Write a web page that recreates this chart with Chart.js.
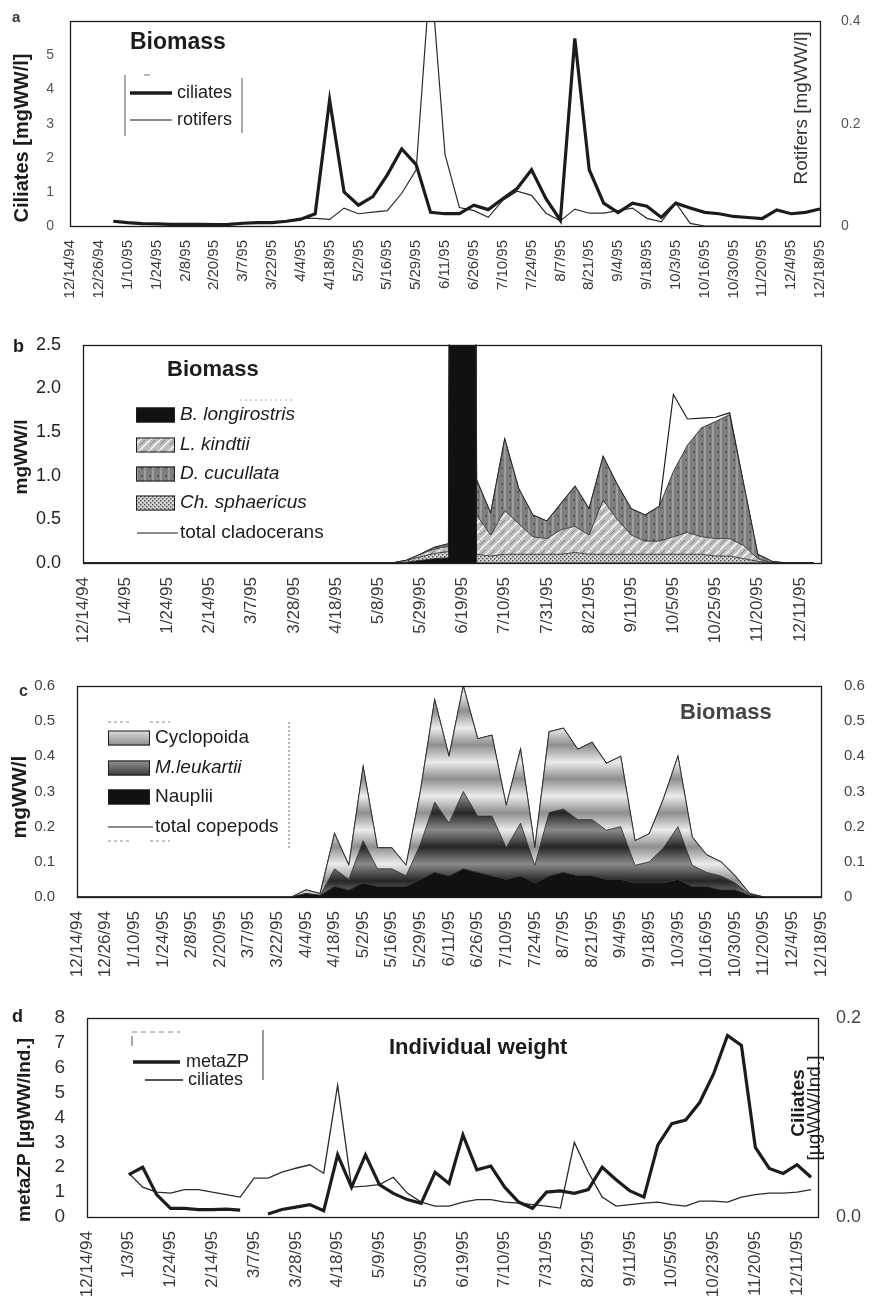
<!DOCTYPE html>
<html>
<head>
<meta charset="utf-8">
<script src="https://cdn.jsdelivr.net/npm/chart.js@4.4.1/dist/chart.umd.min.js"></script>
<style>
html, body { margin: 0; padding: 0; background: #fff; }
#page { position: relative; width: 872px; height: 1299px; overflow: hidden; background: #fff; }
#page canvas { position: absolute; left: 0; }
</style>
</head>
<body>
<div id="page">
  <canvas id="pa" width="872" height="320" style="top:0px"></canvas>
  <canvas id="pb" width="872" height="340" style="top:320px"></canvas>
  <canvas id="pc" width="872" height="320" style="top:660px"></canvas>
  <canvas id="pd" width="872" height="319" style="top:980px"></canvas>
</div>
<script>
// ---------- a: ciliate and rotifer biomass (two samples per tick interval) ----------
const ticksA = ['12/14/94','12/26/94','1/10/95','1/24/95','2/8/95','2/20/95','3/7/95','3/22/95','4/4/95',
  '4/18/95','5/2/95','5/16/95','5/29/95','6/11/95','6/26/95','7/10/95','7/24/95','8/7/95','8/21/95',
  '9/4/95','9/18/95','10/3/95','10/16/95','10/30/95','11/20/95','12/4/95','12/18/95'];
const ciliatesA = [null,null,null,0.14,0.10,0.07,0.06,0.05,0.05,0.05,
  0.04,0.05,0.08,0.10,0.10,0.14,0.20,0.36,3.70,1.00,
  0.61,0.86,1.50,2.26,1.80,0.40,0.36,0.36,0.61,0.48,
  0.80,1.10,1.65,0.80,0.17,5.50,1.65,0.67,0.39,0.67,
  0.58,0.25,0.67,0.53,0.40,0.36,0.28,0.25,0.22,0.47,
  0.36,0.40,0.50];
const rotifersA = [null,null,null,null,null,null,null,null,null,null,
  null,null,null,null,null,null,0.015,0.015,0.013,0.035,
  0.024,0.027,0.030,0.064,0.110,0.500,0.140,0.036,0.030,0.017,
  0.050,0.068,0.060,0.025,0.010,0.033,0.025,0.025,0.030,0.035,
  0.015,0.008,0.045,0.005,0,0,0,0,0,0,
  0,0,0];

// ---------- b: cladoceran biomass (weekly, three samples per tick interval) ----------
const ticksB = ['12/14/94','1/4/95','1/24/95','2/14/95','3/7/95','3/28/95','4/18/95','5/8/95','5/29/95',
  '6/19/95','7/10/95','7/31/95','8/21/95','9/11/95','10/5/95','10/25/95','11/20/95','12/11/95'];
const zeros23 = [0,0,0,0,0,0,0,0,0,0,0,0,0,0,0,0,0,0,0,0,0,0,0];
const longirostrisB = zeros23.concat([0.01,0.03,0.05,0.06,40,0,0,0,0,0,
  0,0,0,0,0,0,0,0,0,0,
  0,0,0,0,0,0,0,0,0,0]);
const sphaericusB = zeros23.concat([0.02,0.04,0.06,0.07,0.10,0.10,0.08,0.10,0.10,0.10,
  0.10,0.10,0.12,0.10,0.10,0.10,0.10,0.10,0.10,0.10,
  0.10,0.10,0.08,0.08,0.05,0.02,0,0,0,0]);
const kindtiiB = zeros23.concat([0,0.03,0.05,0.06,0.50,0.45,0.24,0.50,0.35,0.20,
  0.18,0.28,0.30,0.22,0.62,0.40,0.22,0.15,0.15,0.20,
  0.25,0.20,0.20,0.20,0.15,0.03,0,0,0,0]);
const cucullataB = zeros23.concat([0,0,0.02,0.03,0.40,0.40,0.25,0.82,0.40,0.25,
  0.20,0.30,0.46,0.30,0.50,0.40,0.30,0.30,0.40,0.75,
  1.00,1.25,1.34,1.42,0.70,0.05,0.02,0,0,0]);
const cladoceransB = zeros23.concat([0.03,0.10,0.18,0.22,41,0.95,0.57,1.42,0.85,0.55,
  0.48,0.68,0.88,0.62,1.22,0.90,0.62,0.55,0.65,1.93,
  1.65,1.66,1.67,1.72,0.90,0.10,0.02,0,0,0]);

// ---------- c: copepod biomass (two samples per tick interval) ----------
const ticksC = ticksA.slice();
const zeros16 = [0,0,0,0,0,0,0,0,0,0,0,0,0,0,0,0];
const naupliiC = zeros16.concat([0.01,0.005,0.03,0.02,0.04,0.03,0.03,0.03,0.05,0.07,
  0.06,0.08,0.07,0.06,0.05,0.06,0.04,0.06,0.07,0.06,
  0.06,0.05,0.05,0.04,0.04,0.04,0.05,0.03,0.03,0.02,
  0.02,0.005,0,0,0,0,0]);
const leukartiiC = zeros16.concat([0,0,0.05,0.03,0.12,0.05,0.05,0.03,0.10,0.20,
  0.15,0.22,0.16,0.17,0.09,0.15,0.05,0.18,0.18,0.16,
  0.16,0.14,0.15,0.05,0.06,0.10,0.15,0.06,0.04,0.04,
  0.02,0.003,0,0,0,0,0]);
const cyclopoidaC = zeros16.concat([0.01,0.005,0.10,0.04,0.21,0.06,0.06,0.03,0.15,0.29,
  0.19,0.30,0.22,0.23,0.12,0.21,0.05,0.23,0.23,0.20,
  0.22,0.19,0.20,0.07,0.08,0.14,0.20,0.08,0.05,0.04,
  0.02,0.002,0,0,0,0,0]);
const copepodsC = zeros16.concat([0.02,0.01,0.18,0.09,0.37,0.14,0.14,0.09,0.30,0.56,
  0.40,0.60,0.45,0.46,0.26,0.42,0.14,0.47,0.48,0.42,
  0.44,0.38,0.40,0.16,0.18,0.28,0.40,0.17,0.12,0.10,
  0.06,0.01,0,0,0,0,0]);

// ---------- d: individual weight (weekly, three samples per tick interval) ----------
const ticksD = ['12/14/94','1/3/95','1/24/95','2/14/95','3/7/95','3/28/95','4/18/95','5/9/95','5/30/95',
  '6/19/95','7/10/95','7/31/95','8/21/95','9/11/95','10/5/95','10/23/95','11/20/95','12/11/95'];
const metaZPD = [null,null,null,1.70,2.00,0.90,0.35,0.35,0.30,0.30,
  0.32,0.28,null,0.12,0.30,0.40,0.50,0.25,2.50,1.20,
  2.50,1.30,0.95,0.70,0.55,1.80,1.35,3.30,1.90,2.05,
  1.20,0.60,0.35,1.00,1.05,0.95,1.10,2.00,1.50,1.05,
  0.80,2.90,3.75,3.90,4.60,5.75,7.30,6.90,2.80,1.95,
  1.75,2.10,1.60];
const ciliatesD = [null,null,null,0.044,0.030,0.025,0.024,0.0275,0.0275,0.025,
  0.0225,0.020,0.039,0.039,0.045,0.049,0.0525,0.044,0.1325,0.030,
  0.031,0.0325,0.040,0.024,0.015,0.011,0.011,0.015,0.0175,0.0175,
  0.015,0.014,0.0125,0.011,0.009,0.075,0.045,0.020,0.011,0.0125,
  0.014,0.015,0.0125,0.011,0.016,0.016,0.015,0.020,0.0225,0.024,
  0.024,0.025,0.0275];

// ---------- helpers ----------
const FONT = "'Liberation Sans', Arial, sans-serif";
const INK = '#1c1c1c';
const pts = (arr, step) => arr.map((v, i) => ({ x: i * step, y: v }));

function pattern(w, h, draw) {
  const c = document.createElement('canvas');
  c.width = w; c.height = h;
  const g = c.getContext('2d');
  draw(g, w, h);
  return g.createPattern(c, 'repeat');
}
function bands(period, light, dark) {
  return pattern(4, period, (g, w, h) => {
    const gr = g.createLinearGradient(0, 0, 0, h);
    gr.addColorStop(0, light); gr.addColorStop(0.5, dark); gr.addColorStop(1, light);
    g.fillStyle = gr; g.fillRect(0, 0, w, h);
  });
}
const fillKindtii = pattern(10, 10, (g) => {
  g.fillStyle = '#bdbdbd'; g.fillRect(0, 0, 10, 10);
  g.strokeStyle = '#f4f4f4'; g.lineWidth = 1.6;
  g.beginPath(); g.moveTo(0, 10); g.lineTo(10, 0); g.stroke();
  g.strokeStyle = '#707070'; g.lineWidth = 0.8;
  g.beginPath(); g.moveTo(0, 5); g.lineTo(5, 0); g.stroke();
});
const fillCucullata = pattern(8, 8, (g) => {
  g.fillStyle = '#7e7e7e'; g.fillRect(0, 0, 8, 8);
  g.fillStyle = '#9c9c9c'; g.fillRect(0, 0, 2, 8);
  g.fillStyle = '#5c5c5c'; g.fillRect(5, 3, 2, 2);
});
const fillSphaericus = pattern(4, 4, (g) => {
  g.fillStyle = '#d6d6d6'; g.fillRect(0, 0, 4, 4);
  g.fillStyle = '#505050'; g.fillRect(0, 0, 1.5, 1.5); g.fillRect(2, 2, 1.5, 1.5);
});
const fillCyclopoida = bands(34, '#ececec', '#8e8e8e');
const fillLeukartii = bands(34, '#8a8a8a', '#262626');

function xAxis(labels, max, size, height) {
  return {
    type: 'linear', min: 0, max: max,
    grid: { display: false }, border: { display: false },
    ticks: {
      stepSize: 1, autoSkip: false, includeBounds: false,
      minRotation: 90, maxRotation: 90, padding: 6,
      color: '#3a3a3a', font: { family: FONT, size: size },
      callback: (v) => (Number.isInteger(v) && labels[v] !== undefined) ? labels[v] : ''
    },
    afterFit: (s) => { s.height = height; }
  };
}
function yAxis(pos, min, max, step, fmt, size, width, pad, color) {
  return {
    type: 'linear', position: pos, min: min, max: max,
    grid: { display: false }, border: { display: false },
    ticks: {
      stepSize: step, autoSkip: false, padding: pad, color: color || '#333',
      font: { family: FONT, size: size },
      callback: fmt
    },
    afterFit: (s) => { s.width = width; }
  };
}
function txt(ctx, s, x, y, font, opt) {
  opt = opt || {};
  ctx.save();
  ctx.font = font;
  ctx.fillStyle = opt.color || INK;
  ctx.textAlign = opt.align || 'left';
  ctx.textBaseline = 'middle';
  ctx.translate(x, y);
  if (opt.rot) ctx.rotate(opt.rot);
  ctx.fillText(s, 0, 0);
  ctx.restore();
}
function seg(ctx, x1, y1, x2, y2, w, color, dash) {
  ctx.save();
  ctx.strokeStyle = color || INK; ctx.lineWidth = w;
  if (dash) ctx.setLineDash(dash);
  ctx.beginPath(); ctx.moveTo(x1, y1); ctx.lineTo(x2, y2); ctx.stroke();
  ctx.restore();
}
function swatch(ctx, x, y, w, h, fill) {
  ctx.save();
  ctx.fillStyle = fill; ctx.fillRect(x, y - h / 2, w, h);
  ctx.strokeStyle = INK; ctx.lineWidth = 1;
  ctx.strokeRect(x + 0.5, y - h / 2 + 0.5, w - 1, h - 1);
  ctx.restore();
}
function frame(chart) {
  const a = chart.chartArea, ctx = chart.ctx;
  ctx.save();
  ctx.strokeStyle = INK; ctx.lineWidth = 1.3;
  ctx.strokeRect(Math.round(a.left) + 0.5, Math.round(a.top) + 0.5,
    Math.round(a.right - a.left), Math.round(a.bottom - a.top));
  ctx.restore();
}
const decor = (fn) => ({ id: 'decor', afterDraw(chart) { frame(chart); fn(chart.ctx, chart); } });
const ROT = -Math.PI / 2;
const common = {
  responsive: false, animation: false, events: [],
  elements: { point: { radius: 0 }, line: { tension: 0 } },
  plugins: { legend: { display: false }, tooltip: { enabled: false } }
};
const fmt1 = (v) => v.toFixed(1);
const fmt0or1 = (v) => v === 0 ? '0' : v.toFixed(1);

// ---------- a ----------
new Chart(document.getElementById('pa'), {
  type: 'line',
  data: { datasets: [
    { label: 'ciliates', data: pts(ciliatesA, 0.5), yAxisID: 'y', borderColor: INK, borderWidth: 3.2, fill: false },
    { label: 'rotifers', data: pts(rotifersA, 0.5), yAxisID: 'y2', borderColor: '#2a2a2a', borderWidth: 1.2, fill: false }
  ]},
  options: Object.assign({}, common, {
    layout: { padding: { top: 13, left: 0, right: 0, bottom: 0 } },
    scales: {
      x: xAxis(ticksA, 26, 15, 94),
      y: yAxis('left', 0, 6, 1, (v) => v >= 6 ? '' : String(v), 14, 70, 8, '#555'),
      y2: yAxis('right', 0, 0.4, 0.2, fmt0or1, 14, 52, 13, '#555')
    }
  }),
  plugins: [decor((ctx) => {
    txt(ctx, 'a', 12, 18, `bold 15px ${FONT}`, { color: '#333' });
    txt(ctx, 'Biomass', 130, 43, `bold 23px ${FONT}`);
    seg(ctx, 125, 75, 125, 136, 1, '#555');
    seg(ctx, 242, 78, 242, 133, 1, '#555');
    seg(ctx, 144, 75, 150, 75, 1, '#777');
    seg(ctx, 130, 93, 172, 93, 3.5);
    txt(ctx, 'ciliates', 177, 93, `18px ${FONT}`);
    seg(ctx, 130, 120, 172, 120, 1.2);
    txt(ctx, 'rotifers', 177, 120, `18px ${FONT}`);
    txt(ctx, 'Ciliates [mgWW/l]', 22, 138, `bold 20px ${FONT}`, { rot: ROT, align: 'center' });
    txt(ctx, 'Rotifers [mgWW/l]', 802, 108, `19px ${FONT}`, { rot: ROT, align: 'center', color: '#333' });
  })]
});

// ---------- b ----------
const areaB = (label, values, fill, first) => ({
  label, data: pts(values, 1 / 3), backgroundColor: fill, borderColor: '#222', borderWidth: 0.8,
  fill: first ? 'origin' : '-1', stack: 'species'
});
new Chart(document.getElementById('pb'), {
  type: 'line',
  data: { datasets: [
    areaB('B. longirostris', longirostrisB, '#111111', true),
    areaB('Ch. sphaericus', sphaericusB, fillSphaericus, false),
    areaB('L. kindtii', kindtiiB, fillKindtii, false),
    areaB('D. cucullata', cucullataB, fillCucullata, false),
    { label: 'total cladocerans', data: pts(cladoceransB, 1 / 3), borderColor: INK, borderWidth: 1.2, fill: false, stack: 'total' }
  ]},
  options: Object.assign({}, common, {
    layout: { padding: { top: 23, left: 0, right: 51, bottom: 0 } },
    scales: {
      x: xAxis(ticksB, 17.5, 17, 97),
      y: Object.assign(yAxis('left', 0, 2.5, 0.5, fmt1, 18, 83, 14, '#222'), { stacked: true })
    }
  }),
  plugins: [decor((ctx) => {
    txt(ctx, 'b', 13, 27, `bold 18px ${FONT}`);
    txt(ctx, 'Biomass', 167, 50, `bold 22px ${FONT}`);
    seg(ctx, 240, 80, 292, 80, 1, '#aaa', [2, 3]);
    swatch(ctx, 136, 95, 39, 15, '#111111');
    txt(ctx, 'B. longirostris', 180, 95, `italic 19px ${FONT}`);
    swatch(ctx, 136, 125, 39, 15, fillKindtii);
    txt(ctx, 'L. kindtii', 180, 125, `italic 19px ${FONT}`);
    swatch(ctx, 136, 154, 39, 15, fillCucullata);
    txt(ctx, 'D. cucullata', 180, 154, `italic 19px ${FONT}`);
    swatch(ctx, 136, 183, 39, 15, fillSphaericus);
    txt(ctx, 'Ch. sphaericus', 180, 183, `italic 19px ${FONT}`);
    seg(ctx, 137, 213, 178, 213, 1.2);
    txt(ctx, 'total cladocerans', 180, 213, `19px ${FONT}`);
    txt(ctx, 'mgWW/l', 22, 137, `bold 19px ${FONT}`, { rot: ROT, align: 'center' });
  })]
});

// ---------- c ----------
const areaC = (label, values, fill, first) => ({
  label, data: pts(values, 0.5), backgroundColor: fill, borderColor: '#2a2a2a', borderWidth: 0.8,
  fill: first ? 'origin' : '-1', stack: 'groups'
});
new Chart(document.getElementById('pc'), {
  type: 'line',
  data: { datasets: [
    areaC('Nauplii', naupliiC, '#111111', true),
    areaC('M.leukartii', leukartiiC, fillLeukartii, false),
    areaC('Cyclopoida', cyclopoidaC, fillCyclopoida, false),
    { label: 'total copepods', data: pts(copepodsC, 0.5), borderColor: INK, borderWidth: 1.2, fill: false, stack: 'total' }
  ]},
  options: Object.assign({}, common, {
    layout: { padding: { top: 26, left: 0, right: 0, bottom: 0 } },
    scales: {
      x: xAxis(ticksC, 26, 17, 83),
      y: Object.assign(yAxis('left', 0, 0.6, 0.1, fmt1, 15, 77, 14, '#444'), { stacked: true }),
      y2: yAxis('right', 0, 0.6, 0.1, fmt0or1, 15, 51, 15, '#444')
    }
  }),
  plugins: [decor((ctx) => {
    txt(ctx, 'c', 19, 32, `bold 16px ${FONT}`, { color: '#333' });
    txt(ctx, 'Biomass', 680, 53, `bold 22px ${FONT}`, { color: '#444' });
    seg(ctx, 108, 62, 130, 62, 1, '#888', [3, 3]);
    seg(ctx, 150, 62, 170, 62, 1, '#888', [3, 3]);
    seg(ctx, 289, 62, 289, 190, 1, '#666', [2, 2]);
    seg(ctx, 108, 181, 130, 181, 1, '#888', [3, 3]);
    seg(ctx, 150, 181, 170, 181, 1, '#888', [3, 3]);
    swatch(ctx, 108, 78, 42, 15, fillCyclopoida);
    txt(ctx, 'Cyclopoida', 155, 78, `19px ${FONT}`);
    swatch(ctx, 108, 108, 42, 15, fillLeukartii);
    txt(ctx, 'M.leukartii', 155, 108, `italic 19px ${FONT}`);
    swatch(ctx, 108, 137, 42, 15, '#111111');
    txt(ctx, 'Nauplii', 155, 137, `19px ${FONT}`);
    seg(ctx, 108, 167, 153, 167, 1.2);
    txt(ctx, 'total copepods', 155, 167, `19px ${FONT}`);
    txt(ctx, 'mgWW/l', 20, 137, `bold 21px ${FONT}`, { rot: ROT, align: 'center' });
  })]
});

// ---------- d ----------
new Chart(document.getElementById('pd'), {
  type: 'line',
  data: { datasets: [
    { label: 'metaZP', data: pts(metaZPD, 1 / 3), yAxisID: 'y', borderColor: INK, borderWidth: 3.2, fill: false },
    { label: 'ciliates', data: pts(ciliatesD, 1 / 3), yAxisID: 'y2', borderColor: '#2a2a2a', borderWidth: 1.3, fill: false }
  ]},
  options: Object.assign({}, common, {
    layout: { padding: { top: 38, left: 0, right: 0, bottom: 0 } },
    scales: {
      x: xAxis(ticksD, 17.5, 17, 82),
      y: yAxis('left', 0, 8, 1, (v) => String(v), 19, 87, 14, '#333'),
      y2: yAxis('right', 0, 0.2, 0.2, fmt1, 18, 54, 10, '#444')
    }
  }),
  plugins: [decor((ctx) => {
    txt(ctx, 'd', 12, 37, `bold 18px ${FONT}`);
    txt(ctx, 'Individual weight', 389, 68, `bold 22px ${FONT}`);
    seg(ctx, 132, 52, 180, 52, 1, '#888', [5, 4]);
    seg(ctx, 132, 56, 132, 66, 1, '#555');
    seg(ctx, 263, 50, 263, 100, 1, '#333');
    seg(ctx, 133, 82, 180, 82, 3.5);
    txt(ctx, 'metaZP', 186, 82, `18px ${FONT}`);
    seg(ctx, 145, 100, 183, 100, 1.3);
    txt(ctx, 'ciliates', 188, 100, `18px ${FONT}`);
    txt(ctx, 'metaZP [µgWW/Ind.]', 25, 150, `bold 19px ${FONT}`, { rot: ROT, align: 'center' });
    txt(ctx, 'Ciliates', 799, 123, `bold 19px ${FONT}`, { rot: ROT, align: 'center' });
    txt(ctx, '[µgWW/Ind.]', 815, 128, `19px ${FONT}`, { rot: ROT, align: 'center' });
  })]
});
</script>
</body>
</html>
